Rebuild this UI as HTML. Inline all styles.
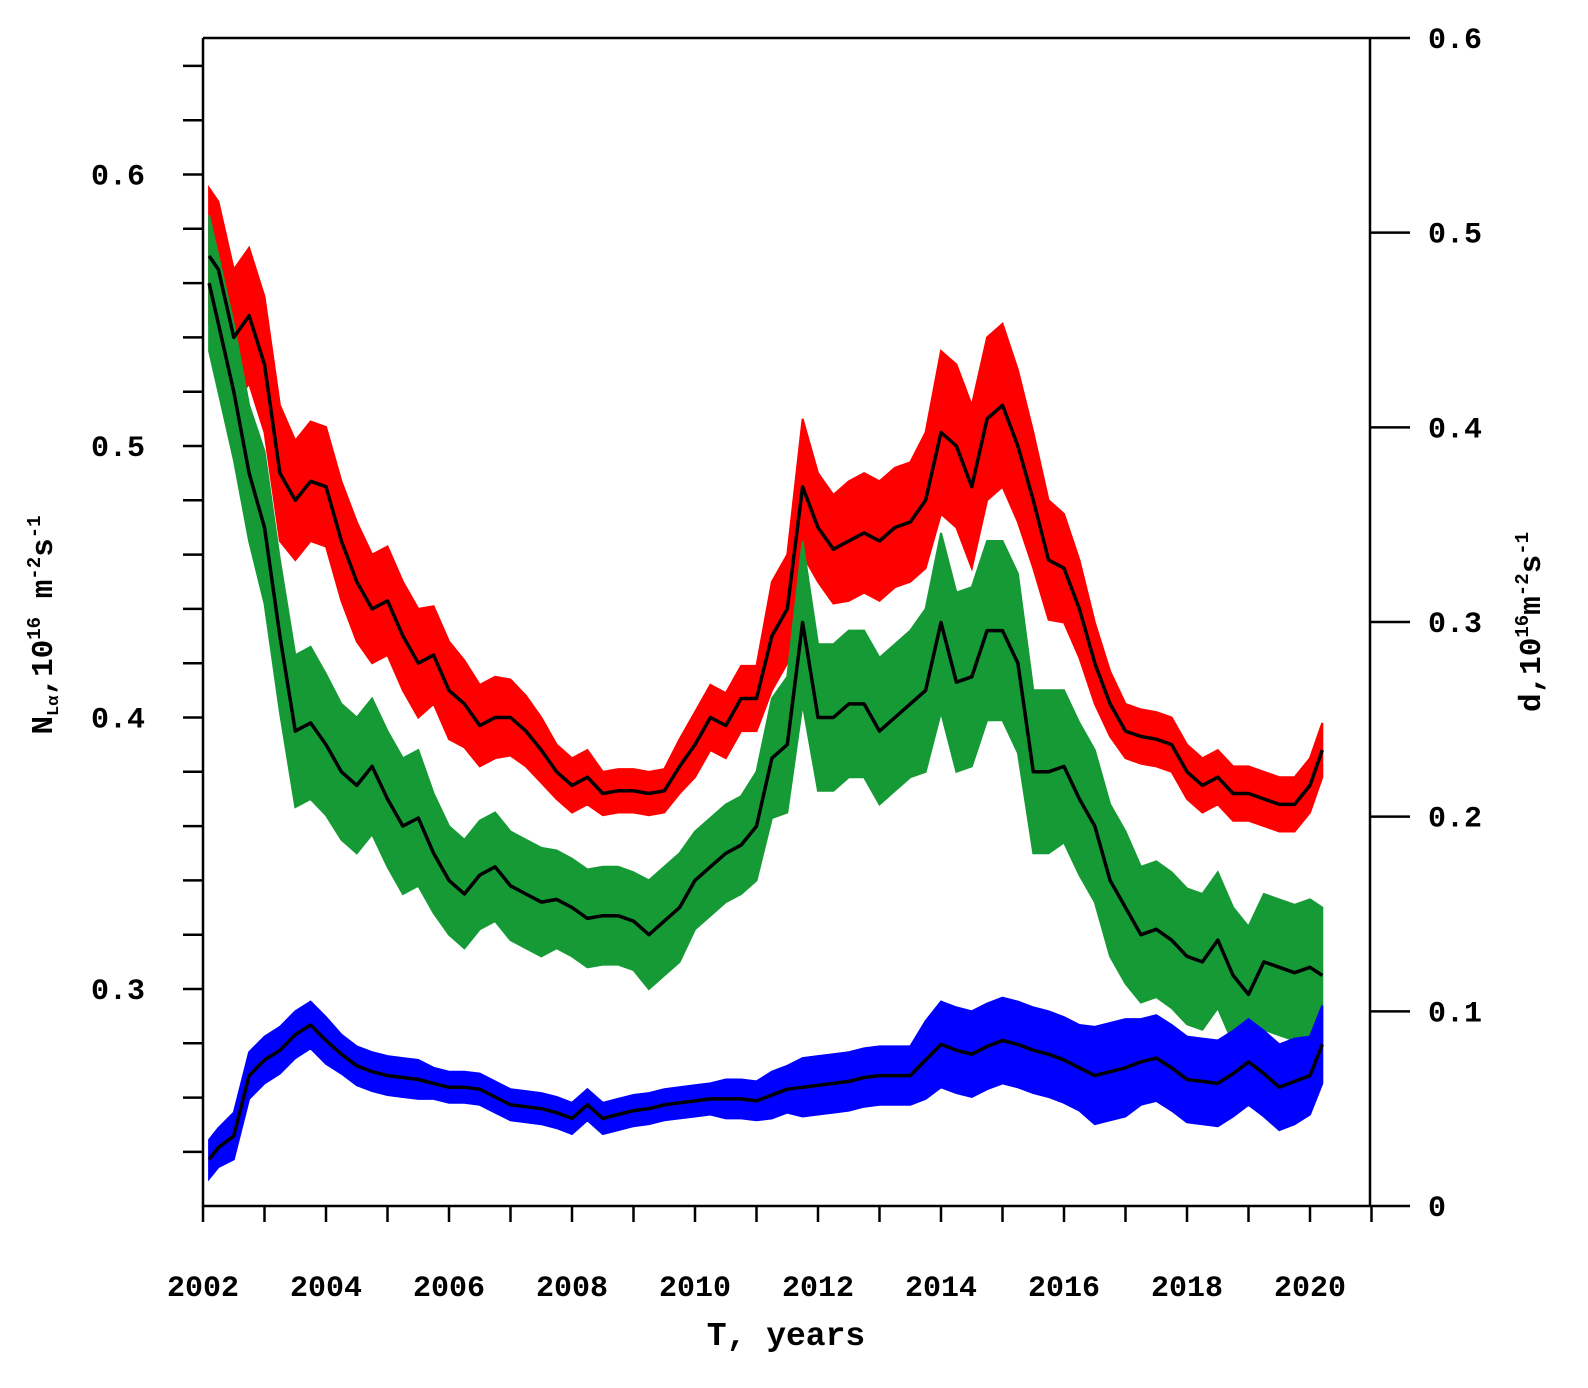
<!DOCTYPE html>
<html><head><meta charset="utf-8">
<style>
html,body{margin:0;padding:0;background:#fff;overflow:hidden;}
svg{display:block;}
text{font-family:"Liberation Mono","DejaVu Sans Mono",monospace;font-weight:bold;fill:#000;}
</style></head>
<body>
<svg id="chart" width="1588" height="1388" viewBox="0 0 1588 1388" xmlns="http://www.w3.org/2000/svg"></svg>
<script>
const years=[2002.1,2002.25,2002.5,2002.75,2003.0,2003.25,2003.5,2003.75,2004.0,2004.25,2004.5,2004.75,2005.0,2005.25,2005.5,2005.75,2006.0,2006.25,2006.5,2006.75,2007.0,2007.25,2007.5,2007.75,2008.0,2008.25,2008.5,2008.75,2009.0,2009.25,2009.5,2009.75,2010.0,2010.25,2010.5,2010.75,2011.0,2011.25,2011.5,2011.75,2012.0,2012.25,2012.5,2012.75,2013.0,2013.25,2013.5,2013.75,2014.0,2014.25,2014.5,2014.75,2015.0,2015.25,2015.5,2015.75,2016.0,2016.25,2016.5,2016.75,2017.0,2017.25,2017.5,2017.75,2018.0,2018.25,2018.5,2018.75,2019.0,2019.25,2019.5,2019.75,2020.0,2020.2];
const redSmooth=[0.57,0.565,0.54,0.548,0.53,0.49,0.48,0.487,0.485,0.465,0.45,0.44,0.443,0.43,0.42,0.423,0.41,0.405,0.397,0.40,0.40,0.395,0.388,0.38,0.375,0.378,0.372,0.373,0.373,0.372,0.373,0.382,0.39,0.40,0.397,0.407,0.407,0.43,0.44,0.485,0.47,0.462,0.465,0.468,0.465,0.47,0.472,0.48,0.505,0.50,0.485,0.51,0.515,0.50,0.48,0.458,0.455,0.44,0.42,0.405,0.395,0.393,0.392,0.39,0.38,0.375,0.378,0.372,0.372,0.37,0.368,0.368,0.375,0.388];
const redSpread=[0.025,0.025,0.025,0.025,0.025,0.025,0.022,0.022,0.022,0.022,0.022,0.02,0.02,0.02,0.02,0.018,0.018,0.016,0.015,0.015,0.014,0.013,0.012,0.01,0.01,0.01,0.008,0.008,0.008,0.008,0.008,0.01,0.012,0.012,0.012,0.012,0.012,0.02,0.02,0.025,0.02,0.02,0.022,0.022,0.022,0.022,0.022,0.025,0.03,0.03,0.03,0.03,0.03,0.028,0.025,0.022,0.02,0.018,0.015,0.012,0.01,0.01,0.01,0.01,0.01,0.01,0.01,0.01,0.01,0.01,0.01,0.01,0.01,0.01];
const greenSmooth=[0.56,0.545,0.52,0.49,0.47,0.43,0.395,0.398,0.39,0.38,0.375,0.382,0.37,0.36,0.363,0.35,0.34,0.335,0.342,0.345,0.338,0.335,0.332,0.333,0.33,0.326,0.327,0.327,0.325,0.32,0.325,0.33,0.34,0.345,0.35,0.353,0.36,0.385,0.39,0.435,0.40,0.40,0.405,0.405,0.395,0.40,0.405,0.41,0.435,0.413,0.415,0.432,0.432,0.42,0.38,0.38,0.382,0.37,0.36,0.34,0.33,0.32,0.322,0.318,0.312,0.31,0.318,0.305,0.298,0.31,0.308,0.306,0.308,0.305];
const greenSpread=[0.025,0.025,0.025,0.025,0.028,0.028,0.028,0.028,0.026,0.025,0.025,0.025,0.025,0.025,0.025,0.022,0.02,0.02,0.02,0.02,0.02,0.02,0.02,0.018,0.018,0.018,0.018,0.018,0.018,0.02,0.02,0.02,0.018,0.018,0.018,0.018,0.02,0.022,0.025,0.03,0.027,0.027,0.027,0.027,0.027,0.027,0.027,0.03,0.033,0.033,0.033,0.033,0.033,0.033,0.03,0.03,0.028,0.028,0.028,0.028,0.028,0.025,0.025,0.025,0.025,0.025,0.025,0.025,0.025,0.025,0.025,0.025,0.025,0.025];
const blueSmooth=[0.024,0.03,0.036,0.067,0.075,0.08,0.088,0.093,0.085,0.078,0.072,0.069,0.067,0.066,0.065,0.063,0.061,0.061,0.06,0.056,0.052,0.051,0.05,0.048,0.045,0.052,0.045,0.047,0.049,0.05,0.052,0.053,0.054,0.055,0.055,0.055,0.054,0.057,0.06,0.061,0.062,0.063,0.064,0.066,0.067,0.067,0.067,0.075,0.083,0.08,0.078,0.082,0.085,0.083,0.08,0.078,0.075,0.071,0.067,0.069,0.071,0.074,0.076,0.071,0.065,0.064,0.063,0.068,0.074,0.068,0.061,0.064,0.067,0.083];
const blueSpread=[0.01,0.01,0.012,0.012,0.012,0.012,0.012,0.012,0.012,0.01,0.01,0.01,0.01,0.01,0.01,0.008,0.008,0.008,0.008,0.008,0.008,0.008,0.008,0.008,0.008,0.008,0.008,0.008,0.008,0.008,0.008,0.008,0.008,0.008,0.01,0.01,0.01,0.012,0.012,0.015,0.015,0.015,0.015,0.015,0.015,0.015,0.015,0.02,0.022,0.022,0.022,0.022,0.022,0.022,0.022,0.022,0.022,0.022,0.025,0.025,0.025,0.022,0.022,0.022,0.022,0.022,0.022,0.022,0.022,0.022,0.022,0.022,0.02,0.02];
const xTicks=[2002,2004,2006,2008,2010,2012,2014,2016,2018,2020];
const leftTicks=[0.3,0.4,0.5,0.6];
const rightTicks=[0,0.1,0.2,0.3,0.4,0.5,0.6];

const NS="http://www.w3.org/2000/svg";
const svg=document.getElementById('chart');
const L=203,R=1370,T=38,B=1206;
const xs=y=>203+(y-2002)*61.5;
const yl=v=>989-(v-0.3)*2715;
const yr=v=>1206-v*1946.7;
function mk(tag,at,parent){const e=document.createElementNS(NS,tag);for(const k in at)e.setAttribute(k,at[k]);(parent||svg).appendChild(e);return e;}

function band(sm,sp,ys,color,name){
  let up=[],dn=[];
  for(let i=0;i<years.length;i++){up.push(xs(years[i]).toFixed(1)+','+ys(sm[i]+sp[i]).toFixed(1));dn.unshift(xs(years[i]).toFixed(1)+','+ys(sm[i]-sp[i]).toFixed(1));}
  const p=mk('polygon',{points:up.concat(dn).join(' '),fill:color,stroke:color,'stroke-width':2});
  
  
}
function line(sm,ys,name){
  const d=years.map((y,i)=>(i?'L':'M')+xs(y).toFixed(1)+','+ys(sm[i]).toFixed(1)).join('');
  const p=mk('path',{d:d,fill:'none',stroke:'#000','stroke-width':3.5,'stroke-linejoin':'round'});
  
  
}
band(redSmooth,redSpread,yl,'#ff0000','red-series-band');
band(greenSmooth,greenSpread,yl,'#159a35','green-series-band');
band(blueSmooth,blueSpread,yr,'#0000ff','blue-series-band');
line(redSmooth,yl,'red-smoothed-line');
line(greenSmooth,yl,'green-smoothed-line');
line(blueSmooth,yr,'blue-smoothed-line');

const fr=mk('path',{d:`M${L},${T}H${R}M${L},${T}V${B}H${R}V${T}`,fill:'none',stroke:'#000','stroke-width':2.5});



for(let k=12;k<=32;k++){const v=k*0.02;const y=yl(v);if(y<T-1||y>B+1)continue;
  const t=mk('line',{x1:183,x2:L,y1:y,y2:y,stroke:'#000','stroke-width':2.5});
  
  }
leftTicks.forEach(v=>{const t=mk('text',{x:145,y:yl(v)+10,'text-anchor':'end','font-size':30});t.textContent=v.toFixed(1);
  
  });
rightTicks.forEach(v=>{const y=yr(v);
  const l=mk('line',{x1:R,x2:1410,y1:y,y2:y,stroke:'#000','stroke-width':2.5});
  
  
  const t=mk('text',{x:1428,y:y+10,'font-size':30});t.textContent=v===0?'0':v.toFixed(1);
  
  });
for(let yv=2002;yv<=2021;yv++){const x=xs(yv);
  const l=mk('line',{x1:x,x2:x,y1:B,y2:1222,stroke:'#000','stroke-width':2.5});
  
  }
xTicks.forEach(yv=>{const t=mk('text',{x:xs(yv),y:1296,'text-anchor':'middle','font-size':30});t.textContent=yv;
  
  });
</script>
<svg style="position:absolute;left:0;top:0" width="1588" height="1388">
<text x="786" y="1345" text-anchor="middle" font-size="33" style="font-family:'Liberation Mono',monospace;font-weight:bold">T, years</text>
<text transform="translate(52,625) rotate(-90)" text-anchor="middle" font-size="31" style="font-family:'Liberation Mono',monospace;font-weight:bold">N<tspan font-size="17" dy="6">Lα</tspan><tspan dy="-6">,10</tspan><tspan font-size="19" dy="-12">16</tspan><tspan dy="12"> m</tspan><tspan font-size="19" dy="-12">-2</tspan><tspan dy="12">s</tspan><tspan font-size="19" dy="-12">-1</tspan></text>
<text transform="translate(1540,622) rotate(-90)" text-anchor="middle" font-size="31" style="font-family:'Liberation Mono',monospace;font-weight:bold">d,10<tspan font-size="19" dy="-12">16</tspan><tspan dy="12">m</tspan><tspan font-size="19" dy="-12">-2</tspan><tspan dy="12">s</tspan><tspan font-size="19" dy="-12">-1</tspan></text>
</svg>
</body></html>
